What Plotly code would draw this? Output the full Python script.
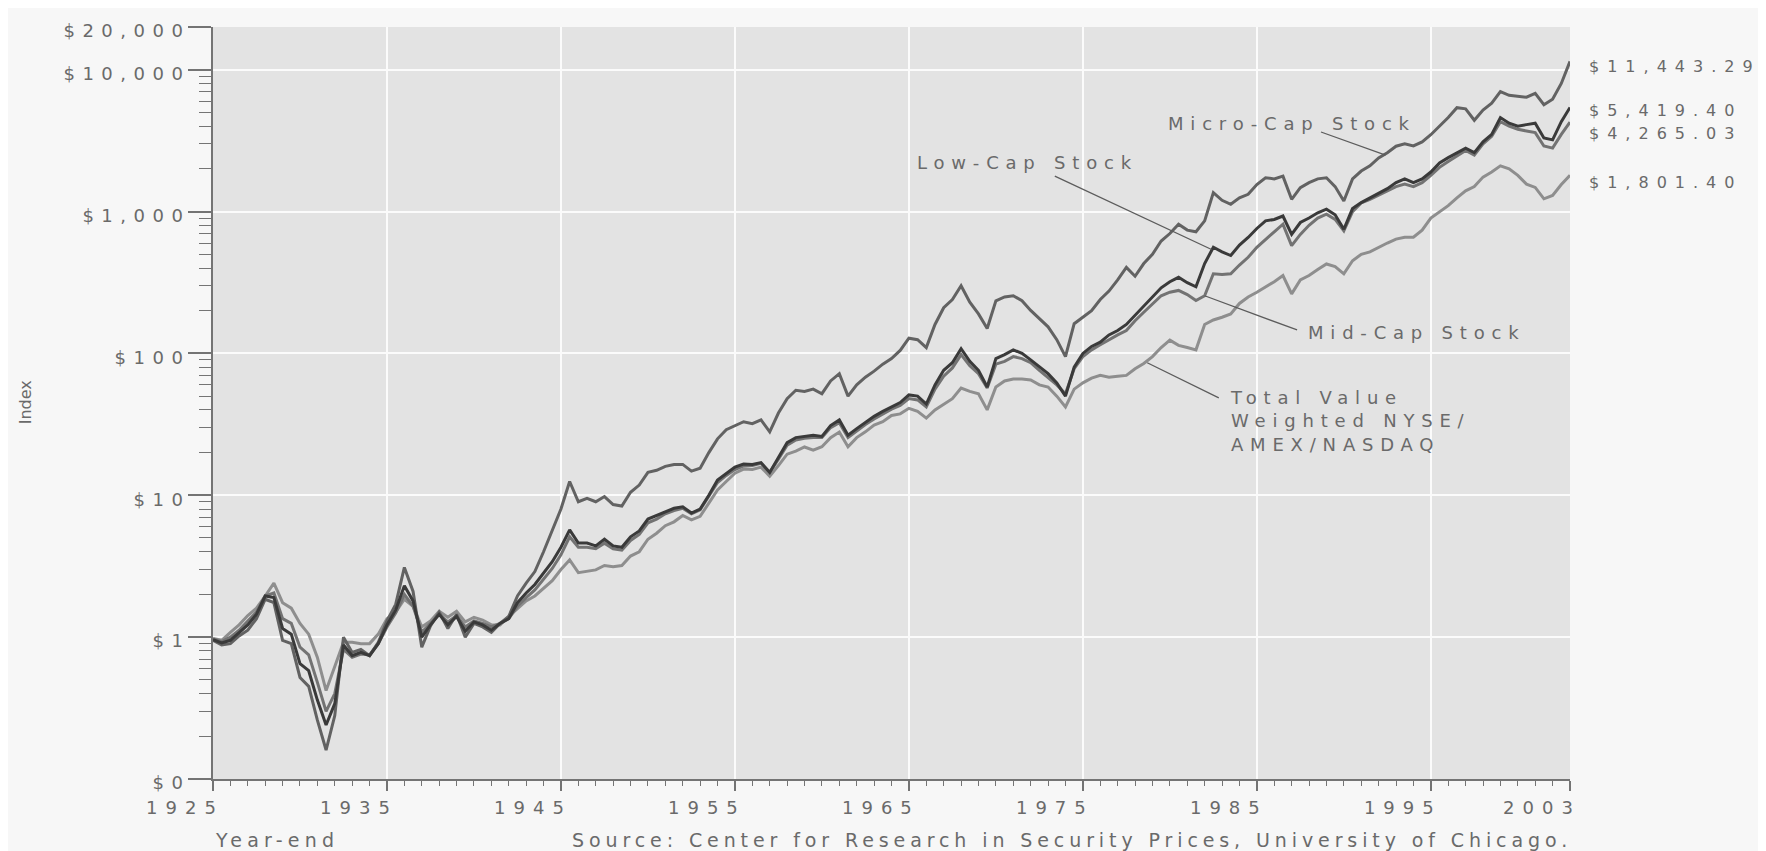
import math
import plotly.graph_objects as go

# ---------------- data (year-end positions, half-year steps) ----------------
years = [
    1925.0, 1925.5, 1926.0, 1926.5, 1927.0, 1927.5, 1928.0, 1928.5, 1929.0, 1929.5,
    1930.0, 1930.5, 1931.0, 1931.5, 1932.0, 1932.5, 1933.0, 1933.5, 1934.0, 1934.5,
    1935.0, 1935.5, 1936.0, 1936.5, 1937.0, 1937.5, 1938.0, 1938.5, 1939.0, 1939.5,
    1940.0, 1940.5, 1941.0, 1941.5, 1942.0, 1942.5, 1943.0, 1943.5, 1944.0, 1944.5,
    1945.0, 1945.5, 1946.0, 1946.5, 1947.0, 1947.5, 1948.0, 1948.5, 1949.0, 1949.5,
    1950.0, 1950.5, 1951.0, 1951.5, 1952.0, 1952.5, 1953.0, 1953.5, 1954.0, 1954.5,
    1955.0, 1955.5, 1956.0, 1956.5, 1957.0, 1957.5, 1958.0, 1958.5, 1959.0, 1959.5,
    1960.0, 1960.5, 1961.0, 1961.5, 1962.0, 1962.5, 1963.0, 1963.5, 1964.0, 1964.5,
    1965.0, 1965.5, 1966.0, 1966.5, 1967.0, 1967.5, 1968.0, 1968.5, 1969.0, 1969.5,
    1970.0, 1970.5, 1971.0, 1971.5, 1972.0, 1972.5, 1973.0, 1973.5, 1974.0, 1974.5,
    1975.0, 1975.5, 1976.0, 1976.5, 1977.0, 1977.5, 1978.0, 1978.5, 1979.0, 1979.5,
    1980.0, 1980.5, 1981.0, 1981.5, 1982.0, 1982.5, 1983.0, 1983.5, 1984.0, 1984.5,
    1985.0, 1985.5, 1986.0, 1986.5, 1987.0, 1987.5, 1988.0, 1988.5, 1989.0, 1989.5,
    1990.0, 1990.5, 1991.0, 1991.5, 1992.0, 1992.5, 1993.0, 1993.5, 1994.0, 1994.5,
    1995.0, 1995.5, 1996.0, 1996.5, 1997.0, 1997.5, 1998.0, 1998.5, 1999.0, 1999.5,
    2000.0, 2000.5, 2001.0, 2001.5, 2002.0, 2002.5, 2003.0,
]

micro_cap = [
    0.95, 0.88, 0.90, 1.02, 1.12, 1.35, 1.85, 1.75, 0.95, 0.90,
    0.52, 0.45, 0.26, 0.16, 0.28, 1.00, 0.78, 0.82, 0.74, 0.92,
    1.30, 1.70, 3.10, 2.10, 0.85, 1.20, 1.50, 1.15, 1.45, 1.00,
    1.25, 1.18, 1.08, 1.25, 1.40, 1.95, 2.40, 2.90, 4.00, 5.60,
    8.00, 12.5, 9.0, 9.5, 9.0, 9.8, 8.6, 8.4, 10.5, 11.8,
    14.5, 15.0, 16.0, 16.5, 16.5, 14.8, 15.5, 20.0, 25.0, 29.0,
    31.0, 33.0, 32.0, 34.0, 28.0, 38.0, 48.0, 55.0, 54.0, 56.0,
    52.0, 64.0, 72.0, 50.0, 60.0, 68.0, 75.0, 84.0, 92.0, 105.0,
    128.0, 125.0, 110.0, 160.0, 210.0, 240.0, 300.0, 230.0, 190.0, 150.0,
    235.0, 250.0, 255.0, 235.0, 201.0, 175.0, 154.0, 125.0, 95.0, 162.0,
    180.0, 200.0, 240.0, 275.0, 330.0, 404.0, 350.0, 430.0, 500.0, 620.0,
    700.0, 815.0, 740.0, 720.0, 860.0, 1360.0, 1200.0, 1126.0, 1250.0, 1323.0,
    1550.0, 1730.0, 1700.0, 1778.0, 1220.0, 1474.0, 1600.0, 1700.0, 1730.0, 1500.0,
    1188.0, 1700.0, 1930.0, 2100.0, 2390.0, 2600.0, 2890.0, 3000.0, 2900.0, 3100.0,
    3480.0, 4000.0, 4600.0, 5400.0, 5300.0, 4400.0, 5200.0, 5800.0, 7000.0, 6600.0,
    6500.0, 6400.0, 6800.0, 5660.0, 6200.0, 8000.0, 11443.29,
]

low_cap = [
    0.96, 0.91, 0.95, 1.08, 1.22, 1.45, 1.95, 1.90, 1.15, 1.05,
    0.65, 0.58, 0.36, 0.24, 0.34, 0.88, 0.74, 0.78, 0.74, 0.90,
    1.22, 1.55, 2.30, 1.80, 1.00, 1.22, 1.45, 1.22, 1.40, 1.10,
    1.28, 1.22, 1.12, 1.25, 1.35, 1.75, 2.05, 2.35, 2.80, 3.40,
    4.30, 5.70, 4.60, 4.60, 4.40, 4.90, 4.40, 4.30, 5.10, 5.60,
    6.80, 7.20, 7.70, 8.10, 8.30, 7.50, 8.00, 10.0, 12.8, 14.2,
    15.8, 16.6, 16.5, 17.0, 14.5, 18.5, 23.5, 25.5, 26.0, 26.5,
    26.0, 31.0, 34.0, 26.5, 29.5, 32.5, 36.0, 39.0, 42.0, 45.0,
    51.0, 50.0, 44.0, 60.0, 76.0, 86.0, 108.0, 88.0, 76.0, 58.0,
    92.0, 98.0, 106.0, 100.0, 90.0, 80.0, 72.0, 62.0, 50.0, 80.0,
    100.0, 112.0, 120.0, 135.0, 145.0, 160.0, 185.0, 215.0, 250.0, 290.0,
    320.0, 344.0, 315.0, 295.0, 430.0, 560.0, 520.0, 490.0, 580.0, 657.0,
    760.0, 860.0, 880.0, 930.0, 690.0, 837.0, 900.0, 980.0, 1040.0, 950.0,
    750.0, 1050.0, 1157.0, 1250.0, 1350.0, 1450.0, 1600.0, 1700.0, 1600.0, 1700.0,
    1900.0, 2200.0, 2400.0, 2600.0, 2800.0, 2600.0, 3100.0, 3500.0, 4600.0, 4200.0,
    4000.0, 4100.0, 4200.0, 3300.0, 3200.0, 4300.0, 5419.40,
]

mid_cap = [
    0.97, 0.93, 1.00, 1.12, 1.30, 1.50, 1.95, 2.05, 1.35, 1.25,
    0.85, 0.75, 0.48, 0.30, 0.40, 0.82, 0.72, 0.76, 0.75, 0.90,
    1.18, 1.48, 2.00, 1.65, 1.08, 1.25, 1.45, 1.28, 1.42, 1.18,
    1.30, 1.25, 1.18, 1.25, 1.35, 1.65, 1.90, 2.15, 2.55, 3.05,
    3.80, 5.10, 4.30, 4.30, 4.20, 4.60, 4.20, 4.10, 4.80, 5.30,
    6.40, 6.80, 7.40, 7.80, 8.10, 7.40, 7.90, 9.80, 12.3, 13.8,
    15.2, 16.1, 16.2, 16.8, 14.5, 18.0, 22.5, 24.5, 25.2, 25.5,
    25.5, 30.0, 32.5, 25.5, 28.5, 31.5, 34.5, 37.5, 40.5, 43.0,
    48.0, 47.0, 42.0, 56.0, 69.0, 79.0, 98.0, 82.0, 72.0, 57.0,
    84.0, 88.0, 95.0, 92.0, 86.0, 76.0, 68.0, 60.0, 52.0, 78.0,
    95.0, 106.0, 115.0, 125.0, 135.0, 145.0, 170.0, 195.0, 224.0, 255.0,
    270.0, 278.0, 260.0, 236.0, 255.0, 364.0, 360.0, 364.0, 420.0, 476.0,
    560.0, 640.0, 720.0, 815.0, 575.0, 690.0, 800.0, 900.0, 958.0, 880.0,
    732.0, 1000.0, 1150.0, 1220.0, 1300.0, 1400.0, 1500.0, 1560.0, 1500.0, 1600.0,
    1800.0, 2050.0, 2250.0, 2450.0, 2700.0, 2500.0, 3000.0, 3400.0, 4300.0, 4000.0,
    3800.0, 3700.0, 3600.0, 2900.0, 2800.0, 3500.0, 4265.03,
]

total_value = [
    0.98, 0.95, 1.08, 1.22, 1.42, 1.60, 1.95, 2.40, 1.75, 1.60,
    1.25, 1.05, 0.72, 0.42, 0.62, 0.92, 0.92, 0.90, 0.90, 1.05,
    1.35, 1.50, 1.85, 1.65, 1.18, 1.30, 1.52, 1.38, 1.52, 1.28,
    1.38, 1.32, 1.22, 1.22, 1.40, 1.60, 1.80, 1.95, 2.20, 2.50,
    3.00, 3.50, 2.85, 2.90, 2.98, 3.20, 3.14, 3.20, 3.73, 4.00,
    4.90, 5.40, 6.10, 6.50, 7.20, 6.70, 7.10, 8.80, 10.9, 12.5,
    14.3, 15.3, 15.2, 15.8, 13.6, 16.2, 19.5, 20.5, 21.9, 20.8,
    22.0, 25.5, 27.9, 22.0, 25.5, 28.0, 31.3, 33.0, 36.5, 37.5,
    41.0, 39.0, 35.0, 40.0, 44.0, 48.0, 57.0, 54.0, 52.0, 40.0,
    58.0, 64.0, 66.0, 66.0, 65.0, 60.0, 58.0, 50.0, 42.0, 56.0,
    62.0, 67.0, 70.0, 68.0, 69.0, 70.0, 78.0, 85.0, 95.0, 110.0,
    124.0, 114.0, 110.0, 106.0, 160.0, 172.0, 180.0, 190.0, 225.0, 250.0,
    270.0, 293.0, 320.0, 354.0, 263.0, 330.0, 354.0, 390.0, 427.0, 410.0,
    364.0, 450.0, 500.0, 520.0, 560.0, 600.0, 640.0, 660.0, 660.0, 740.0,
    900.0, 1000.0, 1100.0, 1250.0, 1400.0, 1500.0, 1750.0, 1900.0, 2100.0, 2000.0,
    1800.0, 1560.0, 1480.0, 1230.0, 1300.0, 1550.0, 1801.40,
]

x_tick_vals = [1925, 1935, 1945, 1955, 1965, 1975, 1985, 1995, 2003]
x_tick_text = ["1925", "1935", "1945", "1955", "1965", "1975", "1985", "1995", "2003"]
y_tick_vals = [0.1, 1, 10, 100, 1000, 10000, 20000]
y_tick_text = ["$0", "$1", "$10", "$100", "$1,000", "$10,000", "$20,000"]

end_values = [11443.29, 5419.40, 4265.03, 1801.40]
end_labels = ["$11,443.29", "$5,419.40", "$4,265.03", "$1,801.40"]

# series labels: (text lines, label year, label value, leader head (year, value), leader tail (year, value))
series_labels = [
    (["Micro-Cap Stock"], 1979.8, 4180, (1992.4, 2500), (1988.6, 3670)),
    (["Low-Cap Stock"], 1965.35, 2220, (1982.4, 540), (1973.3, 1800)),
    (["Mid-Cap Stock"], 1987.85, 140, (1982.0, 255), (1987.4, 145)),
    (["Total Value", "Weighted NYSE/", "AMEX/NASDAQ"], 1983.35, 33.4, (1978.7, 86), (1982.9, 48)),
]

# ---------------- styling ----------------
FONT = "DejaVu Sans"
TEXT_GRAY = "#6a6a6a"
AXIS_GRAY = "#747474"
END_LABEL_SHIFT = [-5, -3, -11, -7]   # px nudges of the end-value labels


def spaced(s, px):
    return '<span style="letter-spacing:%spx">%s</span>' % (px, s)


L10 = math.log10

fig = go.Figure()
series = [
    ("Total Value Weighted NYSE/AMEX/NASDAQ", total_value, "#8e8e8e"),
    ("Mid-Cap Stock", mid_cap, "#737373"),
    ("Micro-Cap Stock", micro_cap, "#626262"),
    ("Low-Cap Stock", low_cap, "#3a3a3a"),
]
for name, vals, col in series:
    fig.add_trace(go.Scatter(x=years, y=vals, mode="lines", name=name,
                             line=dict(color=col, width=3), showlegend=False))

minor_y = [m * 10 ** e for e in range(-1, 4) for m in range(2, 10)]

# the page body adds an 8px offset, so the figure is 8px smaller on each axis
fig.update_layout(
    width=1758, height=843,
    margin=dict(l=205, r=196, t=15, b=72, pad=0),
    paper_bgcolor="#f7f7f7",
    plot_bgcolor="#e3e3e3",
    showlegend=False,
    font=dict(family=FONT, size=18, color=TEXT_GRAY),
)

fig.update_xaxes(
    range=[1925, 2003], tickmode="array", tickvals=x_tick_vals,
    ticktext=[spaced(t, 8) for t in x_tick_text],
    ticks="outside", ticklen=10, tickwidth=1.6, tickcolor=AXIS_GRAY,
    showline=True, linecolor=AXIS_GRAY, linewidth=2,
    showgrid=True, gridcolor="#fbfbfb", gridwidth=2, zeroline=False,
    minor=dict(tickmode="linear", tick0=1925, dtick=1, ticks="outside", ticklen=5,
               tickwidth=1.3, tickcolor=AXIS_GRAY, showgrid=False),
    ticklabelshift=-28, ticklabelstandoff=1,
    tickfont=dict(family=FONT, size=18, color=TEXT_GRAY),
)

fig.update_yaxes(
    type="log", range=[-1, L10(20000)], tickmode="array", tickvals=y_tick_vals,
    ticktext=[spaced(t, 7.5) for t in y_tick_text],
    ticks="outside", ticklen=23, tickwidth=1.6, tickcolor=AXIS_GRAY,
    showline=True, linecolor=AXIS_GRAY, linewidth=2,
    showgrid=True, gridcolor="#fbfbfb", gridwidth=2, zeroline=False,
    minor=dict(tickmode="array", tickvals=minor_y, ticks="outside", ticklen=12,
               tickwidth=1.3, tickcolor=AXIS_GRAY, showgrid=False),
    ticklabelshift=4, ticklabelstandoff=-6,
    tickfont=dict(family=FONT, size=18, color=TEXT_GRAY),
)

ann = []
for lines, lx, lv, head, tail in series_labels:
    ann.append(dict(x=lx, y=L10(lv), xref="x", yref="y", xanchor="left", yanchor="middle",
                    align="left", showarrow=False,
                    text="<br>".join(spaced(s, 6.8) for s in lines),
                    font=dict(family=FONT, size=18, color=TEXT_GRAY)))
    ann.append(dict(x=head[0], y=L10(head[1]), xref="x", yref="y",
                    ax=tail[0], ay=L10(tail[1]), axref="x", ayref="y",
                    text="", showarrow=True, arrowhead=0, arrowwidth=1.3,
                    arrowcolor="#5c5c5c", standoff=0, startstandoff=0))

for lab, v, dy in zip(end_labels, end_values, END_LABEL_SHIFT):
    ann.append(dict(x=1.0125, y=L10(v), xref="paper", yref="y", xanchor="left",
                    yanchor="middle", showarrow=False, yshift=dy,
                    text=spaced(lab, 8), font=dict(family=FONT, size=16, color=TEXT_GRAY)))

ann.append(dict(x=-0.147, y=0.501, xref="paper", yref="paper", textangle=-90,
                showarrow=False, text="Index", font=dict(family=FONT, size=16, color=TEXT_GRAY)))
ann.append(dict(x=0.0472, y=-0.0807, xref="paper", yref="paper", xanchor="center",
                yanchor="middle", showarrow=False, text=spaced("Year-end", 5.2),
                font=dict(family=FONT, size=19, color=TEXT_GRAY)))
ann.append(dict(x=1.003, y=-0.0807, xref="paper", yref="paper", xanchor="right",
                yanchor="middle", showarrow=False,
                text=spaced("Source: Center for Research in Security Prices, University of Chicago.", 4.9),
                font=dict(family=FONT, size=19, color=TEXT_GRAY)))

fig.update_layout(annotations=ann)

fig.write_html("out.html")
